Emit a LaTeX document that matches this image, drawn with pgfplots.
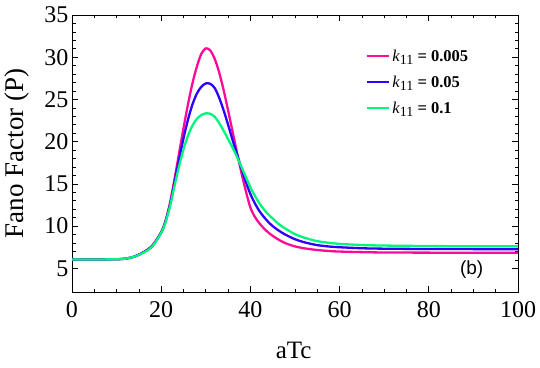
\documentclass[border=0pt]{standalone}
\usepackage{fontspec}
\setmainfont{Liberation Serif}
\newfontfamily\arialfont{Liberation Sans}
\usepackage{pgfplots}
\pgfplotsset{compat=1.18}

\definecolor{cpink}{RGB}{255,10,150}
\definecolor{cblue}{RGB}{45,0,255}
\definecolor{cgreen}{RGB}{0,245,125}

\newcommand{\kk}{\textnormal{\textit{k}}\raisebox{-3.5pt}{\normalfont\fontsize{14}{14}\selectfont 11}}

\begin{document}
\begin{tikzpicture}
\path[use as bounding box] (0,0) rectangle (540pt,367pt);
\begin{axis}[
    at={(72pt,75pt)}, anchor=south west,
    scale only axis, width=446pt, height=277pt,
    xmin=0, xmax=100, ymin=2.2, ymax=35,
    xtick={0,20,...,100}, ytick={5,10,...,35},
    minor x tick num=3, minor y tick num=4,
    tick align=inside,
    major tick length=6pt, minor tick length=3.5pt,
    every tick/.style={black, line width=0.7pt},
    axis line style={line width=0.9pt},
    /pgf/number format/assume math mode=true,
    ticklabel style={font=\fontsize{24}{26}\selectfont},
    xticklabel style={yshift=-6pt},
    xlabel={aTc}, ylabel={Fano Factor (P)},
    every axis x label/.style={at={(axis description cs:0.497,-0.21)}, anchor=center, font=\fontsize{25}{27}\selectfont},
    every axis y label/.style={at={(axis description cs:-0.123,0.5)}, rotate=90, anchor=center, font=\fontsize{27}{29}\selectfont},
    legend style={at={(0.652,0.89)}, anchor=north west, draw=none, fill=none,
        font=\fontsize{16.5}{18}\selectfont\bfseries, row sep=9pt,
        /tikz/every even column/.append style={column sep=5pt}},
    legend image code/.code={\draw[#1, line width=2.4pt] (0pt,0pt) -- (22pt,0pt);},
    legend cell align=left,
]
\addplot[cpink, line width=2.3pt, smooth] coordinates {
(0,6.05) (5,6.05) (10,6.08) (12,6.15) (14,6.4) (16,6.9) (18,7.7) (20,9.3) (21,10.7) (22,12.8)
(23,15.6) (24,18.6) (25,21.6) (26,24.4) (27,26.9) (28,28.9) (29,30.4) (30,31.05) (31,30.8)
(32,29.8) (33,28.2) (34,26.1) (35,23.7) (36,21.2) (37,18.7) (38,16.3) (39,14.1) (40,12.2)
(41,11.1) (42,10.35) (43,9.75) (44,9.25) (45,8.85) (46,8.5) (47,8.2) (48,7.95) (50,7.6)
(52,7.38) (55,7.17) (58,7.04) (60,6.99) (65,6.92) (70,6.88) (80,6.86) (90,6.85) (100,6.85)
};
\addlegendentry{\kk\ = 0.005}
\addplot[cblue, line width=2.3pt, smooth] coordinates {
(0,6.05) (5,6.05) (10,6.08) (12,6.15) (14,6.4) (16,6.9) (18,7.65) (20,9.25) (21,10.6) (22,12.6)
(23,15.2) (24,17.9) (25,20.4) (26,22.6) (27,24.4) (28,25.7) (29,26.5) (30,26.9) (31,26.85)
(32,26.35) (33,25.2) (34,23.7) (35,22.0) (36,20.2) (37,18.5) (38,16.8) (39,15.2) (40,13.8)
(41,12.7) (42,11.8) (43,11.1) (44,10.5) (45,10.0) (46,9.6) (47,9.25) (48,8.95) (50,8.45)
(52,8.1) (55,7.75) (58,7.57) (60,7.5) (65,7.38) (70,7.33) (80,7.29) (90,7.28) (100,7.28)
};
\addlegendentry{\kk\ = 0.05}
\addplot[cgreen, line width=2.3pt, smooth] coordinates {
(0,6.05) (5,6.05) (10,6.08) (12,6.15) (14,6.4) (16,6.85) (18,7.6) (20,9.2) (21,10.5) (22,12.4)
(23,14.8) (24,17.1) (25,19.1) (26,20.7) (27,21.9) (28,22.7) (29,23.15) (30,23.35) (31,23.3)
(32,22.95) (33,22.2) (34,21.3) (35,20.3) (36,19.3) (37,18.2) (38,17.0) (39,15.8) (40,14.6)
(41,13.6) (42,12.7) (43,12.0) (44,11.4) (45,10.9) (46,10.4) (47,10.0) (48,9.65) (50,9.05)
(52,8.65) (55,8.22) (58,8.0) (60,7.9) (65,7.76) (70,7.7) (80,7.64) (90,7.62) (100,7.62)
};
\addlegendentry{\kk\ = 0.1}
\node[font=\arialfont\fontsize{19}{21}\selectfont] at (axis cs:89.6,4.8) {(b)};
\end{axis}
\end{tikzpicture}
\end{document}
